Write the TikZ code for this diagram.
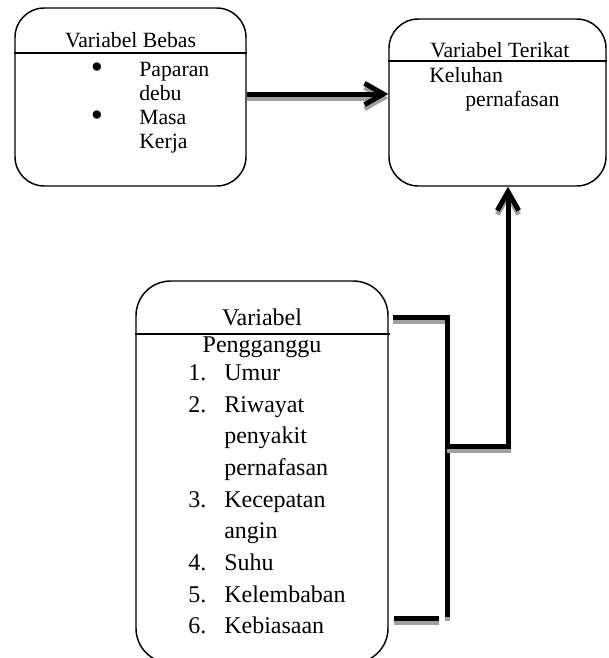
\documentclass[tikz,border=0pt]{standalone}
\usepackage{fontspec}
\setmainfont{Liberation Serif}
\usetikzlibrary{arrows.meta}
\definecolor{shadowgray}{HTML}{A0A0A0}
\tikzset{
  boxstyle/.style={draw, line width=1.1pt, rounded corners=22pt, inner sep=0pt},
  headline/.style={line width=0.8pt},
  txt/.style={anchor=base west, inner sep=0pt, font=\fontsize{16.3}{20}\selectfont},
  ctxt/.style={anchor=base, inner sep=0pt, font=\fontsize{16.3}{20}\selectfont},
  btxt/.style={anchor=base west, inner sep=0pt, font=\fontsize{18}{20}\selectfont},
  bctxt/.style={anchor=base, inner sep=0pt, font=\fontsize{18}{20}\selectfont},
  bulletmark/.style={anchor=base, inner sep=0pt, font=\fontsize{26}{26}\selectfont},
  thickline/.style={line width=3.75pt},
  shadowline/.style={line width=3.75pt, draw=shadowgray},
  barb/.style={-{Straight Barb[length=14pt,width=16pt]}}
}
\newcommand\shadowdraw[2]{%
  \draw[shadowline,#1,transform canvas={yshift=-3pt}] #2;
  \draw[thickline,#1] #2;}
\begin{document}
\begin{tikzpicture}[x=0.75pt,y=-0.75pt]
\useasboundingbox (0,0) rectangle (608,658);
% boxes
\node[boxstyle, minimum width=173.25pt, minimum height=133.5pt] (box1) at (130.5,97) {};
\node[boxstyle, minimum width=162.75pt, minimum height=125.25pt] (box2) at (497.5,102.5) {};
\node[boxstyle, rounded corners=26pt, minimum width=189pt, minimum height=286.5pt] (box3) at (262,472) {};
% header lines
\coordinate (h1) at (0,53);
\coordinate (h2) at (0,61);
\coordinate (h3) at (390,334);
\draw[headline] (box1.west |- h1) -- (box1.east |- h1);
\draw[headline] (box2.west |- h2) -- (box2.east |- h2);
\draw[headline] (box3.west |- h3) -- (h3);
% box 1 text
\node[ctxt] (t1a) at (130.5,47.7) {Variabel Bebas};
\node[bulletmark] (b1a) at (97,78) {•};
\node[txt] (t1b) at (139,76) {Paparan};
\node[txt] (t1c) at (139,100) {debu};
\node[bulletmark] (b1b) at (97,126) {•};
\node[txt] (t1d) at (139,124) {Masa};
\node[txt] (t1e) at (139,148) {Kerja};
% box 2 text
\node[txt] (t2a) at (430,57) {Variabel Terikat};
\node[txt] (t2b) at (429,82) {Keluhan};
\node[txt] (t2c) at (465,106) {pernafasan};
% box 3 text
\node[bctxt] (t3a) at (262,325) {Variabel};
\node[bctxt] (t3b) at (262,352) {Pengganggu};
\node[btxt] (n1) at (188,380) {1.};
\node[btxt] (i1) at (224,380) {Umur};
\node[btxt] (n2) at (188,412) {2.};
\node[btxt] (i2) at (224,412) {Riwayat};
\node[btxt] (i2b) at (224,443) {penyakit};
\node[btxt] (i2c) at (224,475) {pernafasan};
\node[btxt] (n3) at (188,507) {3.};
\node[btxt] (i3) at (224,507) {Kecepatan};
\node[btxt] (i3b) at (224,538) {angin};
\node[btxt] (n4) at (188,570) {4.};
\node[btxt] (i4) at (224,570) {Suhu};
\node[btxt] (n5) at (188,602) {5.};
\node[btxt] (i5) at (224,602) {Kelembaban};
\node[btxt] (n6) at (188,633) {6.};
\node[btxt] (i6) at (224,633) {Kebiasaan};
% connectors
\coordinate (ya) at (0,94);
\shadowdraw{barb}{(box1.east |- ya) -- (box2.west |- ya)}
\coordinate (bt) at (393,317);
\coordinate (bv) at (447,617);
\shadowdraw{}{(bt) -| (bv)}
\coordinate (jn) at (447,446);
\coordinate (xa) at (508,0);
\shadowdraw{barb}{(jn) -| (box2.south -| xa)}
\coordinate (bb1) at (394,618);
\coordinate (bb2) at (439,618);
\shadowdraw{}{(bb1) -- (bb2)}
\end{tikzpicture}
\end{document}
